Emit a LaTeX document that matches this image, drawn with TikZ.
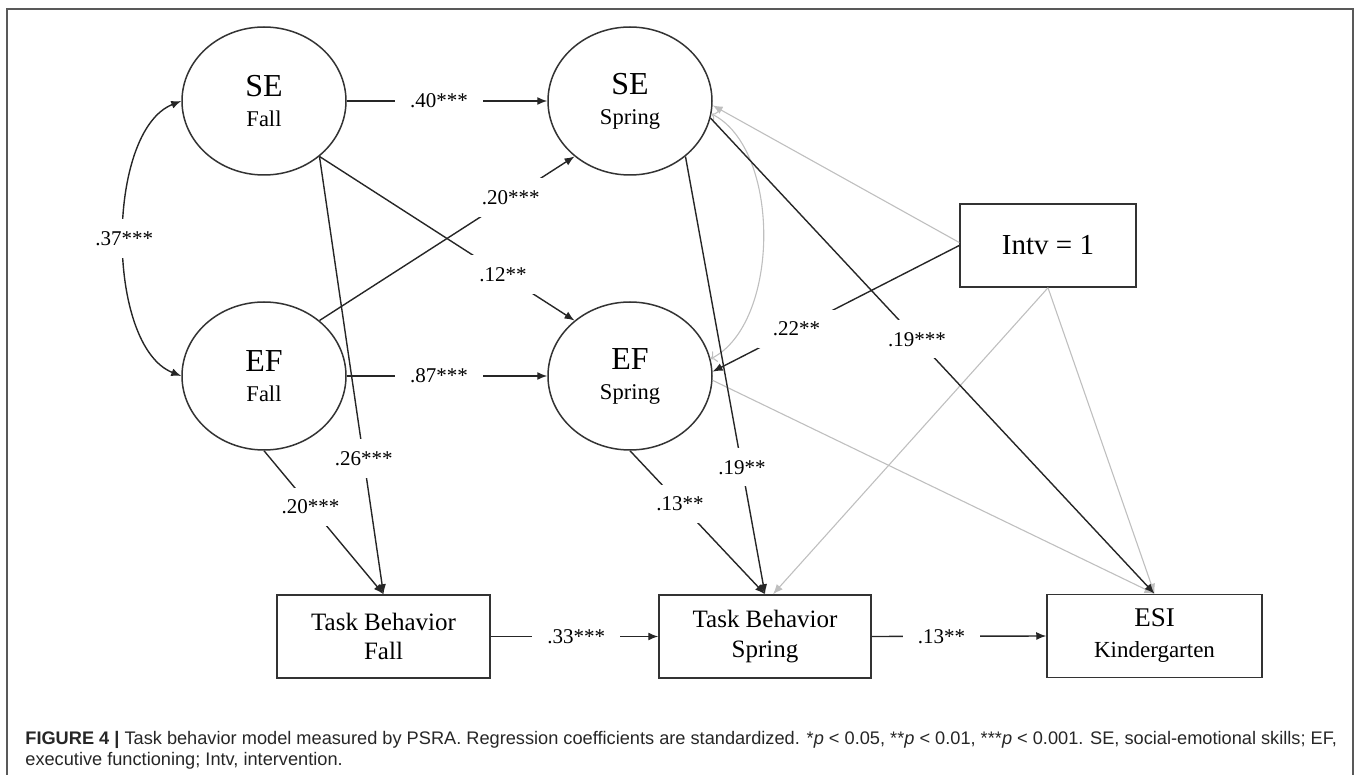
\documentclass[tikz,border=0pt]{standalone}
\usepackage{fontspec}
\setmainfont{Liberation Serif}
\newfontfamily\capfont{Liberation Sans}
\usetikzlibrary{shapes.geometric, arrows.meta}

\begin{document}
\begin{tikzpicture}[x=0.5pt, y=-0.5pt,
  latent/.style={ellipse, draw=black!80, line width=0.75pt, minimum width=82pt, minimum height=74pt, inner sep=0pt, align=center, font=\fontsize{11.25}{15}\selectfont},
  obs/.style={rectangle, draw=black!80, line width=0.75pt, minimum height=41.5pt, align=center, font=\fontsize{12.5}{14.75}\selectfont},
  reg/.style={-{Latex[length=5pt,width=4pt]}, black!85, line width=0.7pt},
  cov/.style={{Latex[length=5pt,width=4pt]}-{Latex[length=5pt,width=4pt]}, black!85, line width=0.7pt},
  fade/.style={-{Latex[length=5pt,width=4pt]}, black!25, line width=0.55pt},
  coef/.style={fill=white, text=black, font=\fontsize{10.5}{12}\selectfont, inner xsep=7.5pt, inner ysep=6pt}]
\useasboundingbox (0,0) rectangle (1357,775);
\draw[black!65, line width=0.75pt] (7,775) -- (7,9) -- (1353,9) -- (1353,775);

\node[latent] (SEF) at (264,101) {{\fontsize{16}{15}\selectfont SE}\\Fall};
\node[latent] (EFF) at (264,376) {{\fontsize{16}{15}\selectfont EF}\\Fall};
\node[latent] (SES) at (630,101) {{\fontsize{16}{15}\selectfont SE}\\Spring};
\node[latent] (EFS) at (630,376) {{\fontsize{16}{15}\selectfont EF}\\Spring};
\node[obs, minimum width=106.5pt] (TBF) at (383.5,636.5) {Task Behavior\\Fall};
\node[obs, minimum width=106pt] (TBS) at (765,636.5) {Task Behavior\\Spring};
\node[obs, minimum width=107.5pt, font=\fontsize{11.5}{15.5}\selectfont] (ESI) at (1154.5,636) {{\fontsize{13.5}{15.5}\selectfont ESI}\\Kindergarten};
\node[obs, minimum width=88pt, font=\fontsize{14.5}{16}\selectfont] (INT) at (1048,245.5) {Intv = 1};

% intervention and residual paths in gray
\draw[fade] ([yshift=1.5pt]INT.west) -- (SES.-3);
\draw[fade, <->] (SES.-9) .. controls +(70,35) and +(70,-35) .. (EFS.12);
\draw[fade] (INT.south) -- ([xshift=4pt]TBS.north);
\draw[fade] (INT.south) -- (ESI.north);
\draw[fade] (EFS.-3) -- (ESI.north);

% regression paths
\draw[cov] (SEF.west) .. controls +(-76,30) and +(-76,-30) .. node[coef, pos=0.5] {.37***} (EFF.west);
\draw[reg] (SEF.east) -- node[coef, pos=0.46] {.40***} (SES.west);
\draw[reg] (EFF.east) -- node[coef, pos=0.46] {.87***} (EFS.west);
\draw[reg] (EFF.45) -- node[coef, pos=0.75] {.20***} (SES.225);
\draw[reg] (SEF.-45) -- node[coef, pos=0.72] {.12**} (EFS.135);
\draw[reg] (SEF.-45) -- node[coef, pos=0.69] {.26***} (TBF.north);
\draw[reg] (EFF.south) -- node[coef, pos=0.39] {.20***} (TBF.north);
\draw[reg] (SES.-45) -- node[coef, pos=0.71] {.19**} (TBS.north);
\draw[reg] (EFS.south) -- node[coef, pos=0.37] {.13**} (TBS.north);
\draw[reg] (TBF.east) -- node[coef, pos=0.51] {.33***} (TBS.west);
\draw[reg] (TBS.east) -- node[coef, pos=0.40] {.13**} (ESI.west);
\draw[reg] (INT.west) -- node[coef, pos=0.66] {.22**} (EFS.3);
\draw[reg] (SES.-12) -- node[coef, pos=0.465] {.19***} (ESI.north);

\node[anchor=north west, align=left, inner sep=0pt, text=black!85, font=\capfont\fontsize{9.1}{10.5}\selectfont] (CAP) at (25,731) {\textbf{FIGURE 4 |} Task behavior model measured by PSRA. Regression coefficients are standardized. *\textit{p} < 0.05, **\textit{p} < 0.01, ***\textit{p} < 0.001. SE, social-emotional skills; EF,\\executive functioning; Intv, intervention.};
\end{tikzpicture}
\end{document}
